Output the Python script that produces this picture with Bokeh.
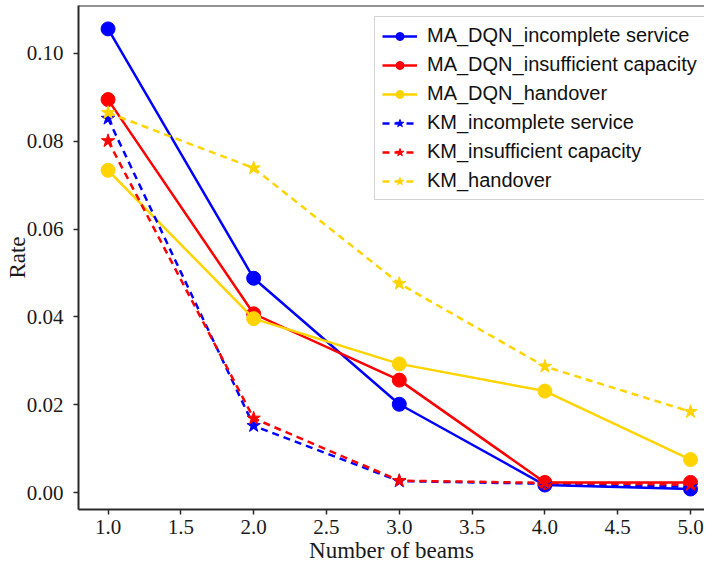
from bokeh.plotting import figure
from bokeh.models import Legend, LegendItem, Span, FixedTicker
from bokeh.embed import file_html
from bokeh.resources import INLINE

beams = [1.0, 2.0, 3.0, 4.0, 5.0]
ma_incomplete = [0.1056, 0.0488, 0.0201, 0.0017, 0.0008]
ma_insufficient = [0.0895, 0.0407, 0.0256, 0.0023, 0.0023]
ma_handover = [0.0734, 0.0396, 0.0293, 0.0231, 0.0075]
km_incomplete = [0.0852, 0.0152, 0.0026, 0.0020, 0.0013]
km_insufficient = [0.0801, 0.0169, 0.0027, 0.0022, 0.0018]
km_handover = [0.0865, 0.0739, 0.0476, 0.0287, 0.0184]

x_ticks = [1.0, 1.5, 2.0, 2.5, 3.0, 3.5, 4.0, 4.5, 5.0]
y_ticks = [0.00, 0.02, 0.04, 0.06, 0.08, 0.10]

BLUE = "#0000FF"
RED = "#FF0000"
GOLD = "#FFD400"
AXIS = "#2a2a2a"

y_start, y_end = -0.00387, 0.11093
x_start, x_end = 0.797, 5.096

p = figure(width=704, height=567, output_backend="svg", toolbar_location=None,
           x_range=(x_start, x_end), y_range=(y_start, y_end),
           min_border_left=78, min_border_right=0, min_border_top=5, min_border_bottom=58)
p.outline_line_color = None
p.xgrid.visible = False
p.ygrid.visible = False
p.background_fill_color = "white"

series = [
    ("MA_DQN_incomplete service", ma_incomplete, BLUE, "solid", "circle", 14),
    ("MA_DQN_insufficient capacity", ma_insufficient, RED, "solid", "circle", 14),
    ("MA_DQN_handover", ma_handover, GOLD, "solid", "circle", 14),
    ("KM_incomplete service", km_incomplete, BLUE, "7 5", "star", 14),
    ("KM_insufficient capacity", km_insufficient, RED, "7 5", "star", 14),
    ("KM_handover", km_handover, GOLD, "7 5", "star", 14),
]

items = []
for label, ys, color, dash, marker, size in series:
    ln = p.line(beams, ys, line_color=color, line_width=2.5, line_dash=dash)
    sc = p.scatter(beams, ys, marker=marker, size=size, fill_color=color, line_color=color)
    items.append(LegendItem(label=label, renderers=[ln, sc]))

legend = Legend(items=items, location=(296, 309))
legend.label_text_font = "Liberation Sans"
legend.label_text_font_size = "20px"
legend.label_text_color = "#111111"
legend.glyph_width = 35
legend.glyph_height = 20
legend.label_height = 20
legend.spacing = 6
legend.label_standoff = 10
legend.padding = 7
legend.margin = 0
legend.border_line_color = "#aaaaaa"
legend.border_line_width = 1
legend.background_fill_alpha = 1
p.add_layout(legend)

top_border = Span(location=y_end, dimension="width", line_color=AXIS, line_width=2)
p.add_layout(top_border)

for ax in (p.xaxis[0], p.yaxis[0]):
    ax.axis_line_color = AXIS
    ax.axis_line_width = 2
    ax.major_tick_line_color = AXIS
    ax.major_tick_line_width = 1.5
    ax.major_tick_out = 5
    ax.major_tick_in = 0
    ax.minor_tick_line_color = None
    ax.major_label_text_font = "Liberation Serif"
    ax.major_label_text_font_size = "21px"
    ax.major_label_text_color = "#1a1a1a"
    ax.axis_label_text_font = "Liberation Serif"
    ax.axis_label_text_font_size = "23px"
    ax.axis_label_text_font_style = "normal"
    ax.axis_label_text_color = "#1a1a1a"

p.xaxis[0].ticker = FixedTicker(ticks=x_ticks)
p.yaxis[0].ticker = FixedTicker(ticks=y_ticks)
p.xaxis[0].major_label_overrides = {t: f"{t:.1f}" for t in x_ticks}
p.yaxis[0].major_label_overrides = {t: f"{t:.2f}" for t in y_ticks}
p.xaxis[0].axis_label = "Number of beams"
p.yaxis[0].axis_label = "Rate"
p.xaxis[0].major_label_standoff = 5
p.xaxis[0].axis_label_standoff = 1
p.yaxis[0].major_label_standoff = 10
p.yaxis[0].axis_label_standoff = -6

open("out.html", "w").write(file_html(p, INLINE))
